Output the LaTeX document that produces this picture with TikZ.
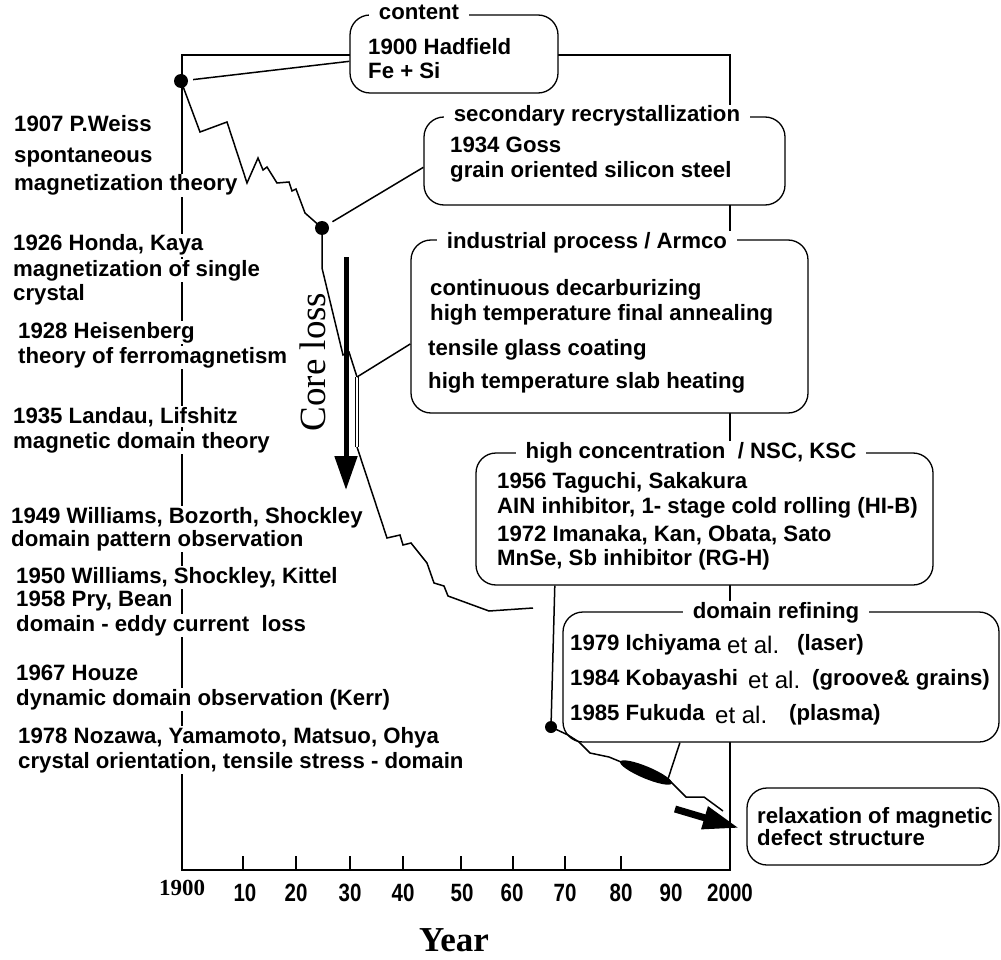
\documentclass[tikz,border=0pt]{standalone}
\usepackage{fontspec}
\setmainfont{Liberation Sans}
\newfontfamily\serifnum{Liberation Serif}
\newfontfamily\narrowf[FakeStretch=0.82]{Liberation Sans}
\usetikzlibrary{arrows.meta,calc}
\begin{document}
\begin{tikzpicture}[x=1pt,y=-1pt,
  every node/.style={inner sep=0pt},
  txt/.style={anchor=base west,font=\fontsize{22.2}{26}\selectfont\bfseries},
  lefttxt/.style={txt,fill=white,inner sep=1pt},
  etal/.style={anchor=base west,font=\fontsize{24}{28}\selectfont},
  roundbox/.style={draw,line width=1.3pt,rounded corners=20pt,fill=white},
  boxtitle/.style={fill=white,inner xsep=10pt,inner ysep=2pt,text height=15pt,text depth=5pt,font=\fontsize{22.2}{26}\selectfont\bfseries},
  axisline/.style={line width=1.8pt},
  curve/.style={line width=1.5pt,line join=miter},
  conn/.style={line width=1.5pt},
  dotnode/.style={circle,fill=black,minimum size=14pt},
  ticklbl/.style={font={\fontsize{25}{28}\narrowf\bfseries}}
]
\useasboundingbox (0,0) rectangle (1001,960);

% frame and ticks
\draw[axisline] (182,55) rectangle (730,870);
\foreach \x in {243,296,350,403,461,513,565,621}
  \draw[axisline] (\x,870) -- (\x,856);

% boxes
\node[roundbox,minimum width=208pt,minimum height=78pt] (bcontent) at (454,54) {};
\node[roundbox,minimum width=361pt,minimum height=88pt] (bsec) at (604.5,161) {};
\node[roundbox,minimum width=397pt,minimum height=173pt] (bind) at (609.5,326.5) {};
\node[roundbox,minimum width=457pt,minimum height=132pt] (bhigh) at (704.5,519) {};
\node[roundbox,minimum width=436pt,minimum height=130pt] (bdom) at (781,677) {};
\node[roundbox,minimum width=252pt,minimum height=77pt] (brelax) at (873,826.5) {};

% box titles
\node[boxtitle] (tcontent) at (419,15) {content};
\node[boxtitle] (tsec) at (597,117) {secondary recrystallization};
\node[boxtitle] (tind) at (587,243) {industrial process / Armco};
\node[boxtitle] (thigh) at (691,453) {high concentration\ \ / NSC, KSC};
\node[boxtitle] (tdom) at (776,613) {domain refining};

% box texts
\node[txt] (c1) at (368,55) {1900 Hadfield};
\node[txt] (c2) at (368,79) {Fe + Si};
\node[txt] (s1) at (450,153) {1934 Goss};
\node[txt] (s2) at (450,178) {grain oriented silicon steel};
\node[txt] (i1) at (430,295) {continuous decarburizing};
\node[txt] (i2) at (430,320) {high temperature final annealing};
\node[txt] (i3) at (428,355) {tensile glass coating};
\node[txt] (i4) at (428,388) {high temperature slab heating};
\node[txt] (h1) at (497,488) {1956 Taguchi, Sakakura};
\node[txt] (h2) at (497,513) {AIN inhibitor, 1- stage cold rolling (HI-B)};
\node[txt] (h3) at (497,541) {1972 Imanaka, Kan, Obata, Sato};
\node[txt] (h4) at (497,565) {MnSe, Sb inhibitor (RG-H)};
\node[txt] (d1) at (570,650) {1979 Ichiyama};
\node[etal] (d1e) at (727,653) {et al.};
\node[txt] (d1r) at (797,650) {(laser)};
\node[txt] (d2) at (570,685) {1984 Kobayashi};
\node[etal] (d2e) at (748,688) {et al.};
\node[txt] (d2r) at (812,685) {(groove\& grains)};
\node[txt] (d3) at (570,720) {1985 Fukuda};
\node[etal] (d3e) at (715,723) {et al.};
\node[txt] (d3r) at (789,720) {(plasma)};
\node[txt] (r1) at (757,823) {relaxation of magnetic};
\node[txt] (r2) at (757,845) {defect structure};

% left texts
\node[lefttxt] (l1) at (13,132) {1907 P.Weiss};
\node[lefttxt] (l2) at (13,163) {spontaneous};
\node[lefttxt] (l3) at (13,191) {magnetization theory};
\node[lefttxt] (l4) at (12,251) {1926 Honda, Kaya};
\node[lefttxt] (l5) at (12,276) {magnetization of single};
\node[lefttxt] (l6) at (12,300) {crystal};
\node[lefttxt] (l7) at (17,338) {1928 Heisenberg};
\node[lefttxt] (l8) at (17,363) {theory of ferromagnetism};
\node[lefttxt] (l9) at (12,423) {1935 Landau, Lifshitz};
\node[lefttxt] (l10) at (12,448) {magnetic domain theory};
\node[lefttxt] (l11) at (10,523) {1949 Williams, Bozorth, Shockley};
\node[lefttxt] (l12) at (10,546) {domain pattern observation};
\node[lefttxt] (l13) at (15,583) {1950 Williams, Shockley, Kittel};
\node[lefttxt] (l14) at (15,606) {1958 Pry, Bean};
\node[lefttxt] (l15) at (15,631) {domain - eddy current\ \ loss};
\node[lefttxt] (l16) at (15,680) {1967 Houze};
\node[lefttxt] (l17) at (15,705) {dynamic domain observation (Kerr)};
\node[lefttxt] (l18) at (17,743) {1978 Nozawa, Yamamoto, Matsuo, Ohya};
\node[lefttxt] (l19) at (17,768) {crystal orientation, tensile stress - domain};

% dots and curve
\node[dotnode] (dot1) at (181,81) {};
\node[dotnode] (dot2) at (322,228) {};
\node[dotnode,minimum size=12pt] (dot3) at (551,727) {};
\coordinate (kink) at (357,377);
\coordinate (kinkb) at (357,447);
\coordinate (lensend) at (668,779);

\draw[curve] (dot1.center) -- (200,132) -- (227,122) -- (247,183) -- (258,158) -- (263,170) -- (267,167) -- (277,183) -- (289,182) -- (292,191) -- (296,189) -- (305,213) -- (dot2.center);
\draw[curve] (dot2.center) -- (322,268) -- (343,355) -- (349,352) -- (kink);
\draw[line width=0.9pt,double=white,double distance=1.8pt] (kink) -- (kinkb);
\draw[curve] (kinkb) -- (387,538) -- (400,535) -- (403,545) -- (411,543) -- (427,563) -- (434,583) -- (444,586) -- (448,596) -- (489,611) -- (533,608);
\draw[curve] (dot3.center) -- (568,735) -- (579,742) -- (590,753) -- (609,757) -- (626,764);
\fill[rotate around={-22.8:(646,772.5)}] (646,772.5) ellipse [x radius=28pt, y radius=6pt];
\draw[curve] (lensend) -- (686,797) -- (704,797) -- (723,811);

% connectors
\draw[conn,shorten <=5pt] (dot1) -- (bcontent.184);
\draw[conn,shorten <=5pt] (dot2) -- (bsec.182);
\draw[conn] (kink) -- (bind.185);
\draw[conn] (bhigh.204) -- (dot3);
\draw[conn] (bdom.213) -- (lensend);

% arrows
\coordinate (cltop) at (346,257);
\coordinate (clbot) at (346,490);
\draw[line width=5pt,-{Triangle[length=34pt,width=22pt]}] (cltop) -- (clbot);
\coordinate (arrtail) at (675,809);
\coordinate (arrtip) at (739,828);
\draw[line width=7pt,-{Triangle[length=36pt,width=22pt]}] (arrtail) -- (arrtip);

% labels
\node[rotate=90,font={\fontsize{37}{40}\serifnum}] (coreloss) at (313,362) {Core loss};
\node[font={\fontsize{23}{26}\serifnum\bfseries}] (y1900) at (182,888) {1900};
\foreach \x/\l in {245/10,296/20,350/30,403/40,462/50,512/60,565/70,621/80,671/90,730/2000}
  \node[ticklbl] (tick\l) at (\x,893) {\l};
\node[anchor=base,text depth=0pt,font={\fontsize{35}{40}\serifnum\bfseries}] (year) at (454,951) {Year};
\end{tikzpicture}
\end{document}
